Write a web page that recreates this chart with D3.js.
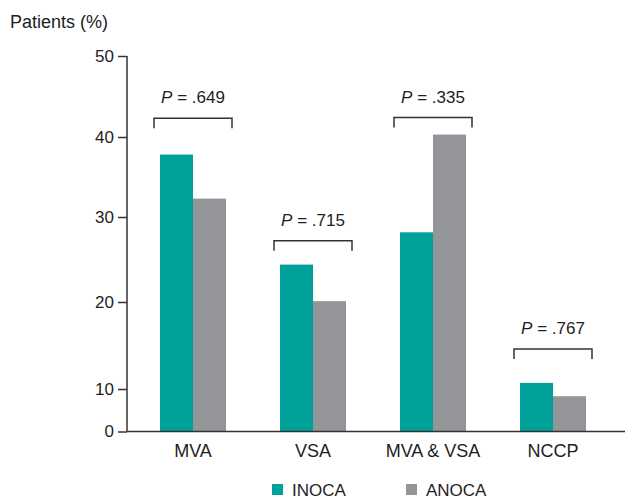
<!DOCTYPE html>
<html>
<head>
<meta charset="utf-8">
<script src="https://cdn.jsdelivr.net/npm/d3@7"></script>
<style>
  html, body { margin: 0; padding: 0; background: #fff; }
  svg { display: block; font-family: "Liberation Sans", Arial, Helvetica, sans-serif; }
</style>
</head>
<body>
<svg id="chart" width="625" height="500"></svg>
<script>
// Diagnosis categories and the share of patients in each group (%)
const categories = ["MVA", "VSA", "MVA & VSA", "NCCP"];
const seriesNames = ["INOCA", "ANOCA"];
const inoca = [37.8, 24.4, 28.2, 10.7];
const anoca = [32.3, 20.1, 40.3, 8.3];
// P values for the INOCA vs ANOCA comparison and the height of each bracket (%)
const pValues = [".649", ".715", ".335", ".767"];
const bracketLevels = [42.3, 27.2, 42.4, 14.6];
const yTicks = [0, 10, 20, 30, 40, 50];

const colors = { INOCA: "#00a19b", ANOCA: "#939598" };
const ink = "#333333";
const textInk = "#1e1e1e";
const font = "'Liberation Sans', Arial, sans-serif";

const svg = d3.select("#chart");

// The printed axis is not evenly spaced: 0-10 is compressed
const y = d3.scaleLinear()
  .domain(yTicks)
  .range([431.5, 389, 302, 217, 137, 56]);

const x = d3.scaleBand()
  .domain(categories)
  .range([133, 613])
  .paddingInner(0.45)
  .paddingOuter(0.225);

const xs = d3.scaleBand()
  .domain(seriesNames)
  .range([0, x.bandwidth()]);

const rows = categories.map((c, i) => ({
  cat: c,
  values: [{ s: "INOCA", v: inoca[i] }, { s: "ANOCA", v: anoca[i] }],
  p: pValues[i],
  level: bracketLevels[i]
}));

// Bars
const groups = svg.append("g").selectAll("g")
  .data(rows).join("g")
  .attr("transform", d => `translate(${x(d.cat)},0)`);

groups.selectAll("rect")
  .data(d => d.values).join("rect")
  .attr("x", d => xs(d.s))
  .attr("width", xs.bandwidth())
  .attr("y", d => y(d.v))
  .attr("height", d => y(0) - y(d.v))
  .attr("fill", d => colors[d.s]);

// Significance brackets with P values
const pad = 6;
groups.append("path")
  .attr("d", d => {
    const top = y(d.level);
    const x0 = -pad, x1 = x.bandwidth() + pad;
    return `M${x0},${top + 10}V${top}H${x1}V${top + 10}`;
  })
  .attr("fill", "none")
  .attr("stroke", ink)
  .attr("stroke-width", 1.5);

const pText = groups.append("text")
  .attr("x", x.bandwidth() / 2)
  .attr("y", d => y(d.level) - 15)
  .attr("text-anchor", "middle")
  .attr("font-size", 17)
  .attr("fill", textInk);
pText.append("tspan").attr("font-style", "italic").text("P");
pText.append("tspan").text(d => " = " + d.p);

// Y axis
const yAxis = d3.axisLeft(y).tickValues(yTicks).tickSize(9).tickSizeOuter(0).tickPadding(4);
const gy = svg.append("g").attr("transform", "translate(127,0)").call(yAxis);
gy.select(".domain").attr("stroke", ink).attr("stroke-width", 1.5)
  .attr("d", `M0,${y(50)}V${y(0)}`);
gy.selectAll(".tick line").attr("stroke", ink).attr("stroke-width", 1.5);
gy.selectAll(".tick text").attr("font-size", 17).attr("fill", textInk)
  .attr("font-family", font);

// X axis
const xAxis = d3.axisBottom(x).tickSize(0).tickPadding(10);
const gx = svg.append("g").attr("transform", `translate(0,${y(0)})`).call(xAxis);
gx.select(".domain").attr("stroke", ink).attr("stroke-width", 1.5)
  .attr("d", `M127,0H626`);
gx.selectAll(".tick text").attr("font-size", 18).attr("fill", textInk)
  .attr("dy", "0.85em")
  .attr("font-family", font);

// Axis title
svg.append("text")
  .attr("x", 10).attr("y", 28)
  .attr("font-size", 18).attr("fill", textInk)
  .text("Patients (%)");

// Legend
const legendX = [272, 406];
const legend = svg.append("g").selectAll("g")
  .data(seriesNames).join("g")
  .attr("transform", (d, i) => `translate(${legendX[i]},484)`);
legend.append("rect")
  .attr("width", 11).attr("height", 11)
  .attr("fill", d => colors[d]);
legend.append("text")
  .attr("x", 20).attr("y", 11.5)
  .attr("font-size", 17).attr("fill", textInk)
  .text(d => d);
</script>
</body>
</html>
